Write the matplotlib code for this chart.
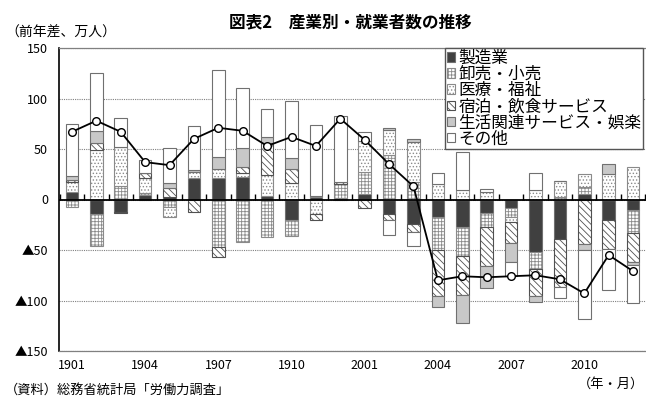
import numpy as np
import matplotlib.pyplot as plt

plt.rcParams['font.family'] = ['Noto Sans CJK JP', 'DejaVu Sans']
plt.rcParams['hatch.linewidth'] = 0.6

# year-month labels (2019.01 - 2020.12)
months = ["1901", "1902", "1903", "1904", "1905", "1906", "1907", "1908",
          "1909", "1910", "1911", "1912", "2001", "2002", "2003", "2004",
          "2005", "2006", "2007", "2008", "2009", "2010", "2011", "2012"]

industries = ["製造業", "卸売・小売", "医療・福祉", "宿泊・飲食サービス",
              "生活関連サービス・娯楽", "その他"]

# year-on-year change, 10k persons
manufacturing = [7, -14, -12.5, 4.3, 2.6, 21, 21, 22, 3, -20, 2, 1.5,
                 5, -14.5, -24, -17, -27, -13, -8, -52, -39, 5, -20, -10.6]
wholesale_retail = [-7.3, -32.5, 13, 2.3, -7.3, 0, -47, -42, -37, -16, 1, 14,
                    22, 44, 17.5, -33, -29, -14.5, -9, -16.5, 2, 7.6, 0, -22.4]
medical_welfare = [10, 49, 39, 15, -10, 6.6, 9, 4, 21, 16, -14, 0,
                   31, 25, 39.6, 15.2, 9.2, 7.6, -5, 9.2, 16.5, 13, 25.7, 31.7]
lodging_food = [2, 7, -1.3, 4.6, 9.2, -12.2, -10, 6.6, 32, 14, -6.6, 2.3,
                -8, -6, -8.3, -45.5, -38.6, -38.3, -21.5, -27.4, -47.2, -43.6, -28.7, -28.7]
living_leisure = [4.6, 12, 0, 0, 4.3, 2, 12.5, 18.5, 6, 11, 0, 0,
                  0, 1.5, 2.6, -11.2, -28, -21.5, -18, -5.6, 0, -6.6, 9.2, -3.3]
other = [51, 57, 29, 13, 35, 43, 85.5, 59.5, 28, 57, 70.4, 65,
         8.7, -15, -14.2, 11.5, 37.4, 3.1, -14.4, 17.4, -11.2, -68.4, -41.3, -37.7]
total = [67, 78, 67, 37, 34, 60, 71, 68, 53, 62, 53, 80,
         59, 35, 13, -80, -76, -77, -76, -75, -79, -93, -55, -71]

series = [manufacturing, wholesale_retail, medical_welfare,
          lodging_food, living_leisure, other]
styles = [
    dict(facecolor="#404040", edgecolor="#707070"),
    dict(facecolor="white", edgecolor="#8a8a8a", hatch="+++++"),
    dict(facecolor="white", edgecolor="#8a8a8a", hatch="....."),
    dict(facecolor="white", edgecolor="#505050", hatch="\\\\\\\\\\"),
    dict(facecolor="#c8c8c8", edgecolor="#707070"),
    dict(facecolor="white", edgecolor="#707070"),
]

fig = plt.figure(figsize=(6.46, 3.99), dpi=100)
ax = fig.add_axes([59 / 646, 1 - 351 / 399, 587 / 646, 303 / 399])

x = np.arange(len(months))
pos_base = np.zeros(len(x))
neg_base = np.zeros(len(x))
for vals, name, style in zip(series, industries, styles):
    v = np.array(vals, dtype=float)
    bottom = np.where(v >= 0, pos_base, neg_base)
    ax.bar(x, v, bottom=bottom, width=0.52, linewidth=0.8, label=name,
           zorder=2, **style)
    pos_base += np.clip(v, 0, None)
    neg_base += np.clip(v, None, 0)

# zero line with small upward separators between months
ax.axhline(0, color="black", lw=1.3, zorder=3)
edges = np.arange(len(x) + 1) - 0.5
ax.plot(edges, np.zeros_like(edges), ls="none", marker=2, ms=4.5,
        mew=1, color="black", zorder=3)

ax.plot(x, total, color="black", lw=1.3, marker="o", ms=5.5,
        mfc="white", mec="black", mew=1, zorder=5)

ax.set_xlim(-0.53, len(x) - 0.47)
ax.set_ylim(-150, 150)
yt = np.arange(-150, 151, 50)
ax.set_yticks(yt, labels=[f"▲{-v}" if v < 0 else str(v) for v in yt])
ax.set_xticks(x[::3], labels=months[::3])
ax.tick_params(axis="y", length=0, pad=8, labelsize=9)
ax.tick_params(axis="x", length=0, pad=6, labelsize=9)

ax.yaxis.grid(True, linestyle=(0, (1, 1)), color="#808080", lw=0.8)
ax.set_axisbelow(True)
ax.spines["right"].set_visible(False)
ax.spines["left"].set_color("black")
ax.spines["left"].set_linewidth(1.2)
for side in ("top", "bottom"):
    ax.spines[side].set_color("#808080")
    ax.spines[side].set_linestyle((0, (1, 1)))
    ax.spines[side].set_linewidth(0.9)

leg = ax.legend(loc="upper right", bbox_to_anchor=(0.995, 1.0),
                borderaxespad=0, fontsize=12, handlelength=0.5,
                handleheight=0.5, handletextpad=0.2, labelspacing=-0.05,
                borderpad=0.1, fancybox=False, framealpha=1)
leg.get_frame().set_edgecolor("#555555")
leg.get_frame().set_linewidth(1)

fig.text(0.543, 1 - 22 / 399, "図表2\u3000産業別・就業者数の推移",
         ha="center", va="center", fontsize=12, fontweight="bold")
fig.text(5 / 646, 1 - 33 / 399, "（前年差、万人）", ha="left", va="center",
         fontsize=10)
fig.text(5 / 646, 1 - 390 / 399, "（資料）総務省統計局「労働力調査」",
         ha="left", va="center", fontsize=9.5)
fig.text(644 / 646, 1 - 384 / 399, "（年・月）", ha="right", va="center",
         fontsize=9.5)

fig.savefig("out.png", dpi=100)
